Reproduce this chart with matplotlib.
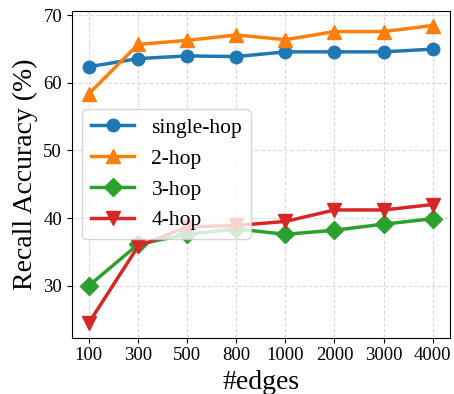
import matplotlib
matplotlib.use("Agg")
import matplotlib.pyplot as plt

plt.rcParams["font.family"] = ["Liberation Serif", "DejaVu Serif"]

edges = ["100", "300", "500", "800", "1000", "2000", "3000", "4000"]
single_hop = [62.4, 63.6, 64.0, 63.9, 64.6, 64.6, 64.6, 65.0]
two_hop = [58.4, 65.7, 66.3, 67.1, 66.4, 67.6, 67.6, 68.5]
three_hop = [30.0, 36.1, 37.6, 38.4, 37.6, 38.2, 39.1, 39.9]
four_hop = [24.5, 35.8, 38.7, 38.9, 39.5, 41.2, 41.2, 42.0]

fig, ax = plt.subplots(figsize=(4.54, 3.94), dpi=100)
fig.subplots_adjust(left=0.158, right=0.991, top=0.973, bottom=0.143)

x = range(len(edges))
ax.plot(x, single_hop, color="tab:blue", marker="o", lw=2.5, ms=9, label="single-hop")
ax.plot(x, two_hop, color="tab:orange", marker="^", lw=2.5, ms=10, label="2-hop")
ax.plot(x, three_hop, color="tab:green", marker="D", lw=2.5, ms=9, label="3-hop")
ax.plot(x, four_hop, color="tab:red", marker="v", lw=2.5, ms=10, label="4-hop")

ax.set_xticks(list(x))
ax.set_xticklabels(edges)
ax.set_yticks([30, 40, 50, 60, 70])
ax.tick_params(labelsize=13.5)
ax.set_xlabel("#edges", fontsize=20)
ax.set_ylabel("Recall Accuracy (%)", fontsize=20)
ax.grid(True, ls="--", color="lightgray", alpha=0.8)
ax.legend(loc="center left", fontsize=15.5, handlelength=2.0)

fig.savefig("out.png", dpi=100)
